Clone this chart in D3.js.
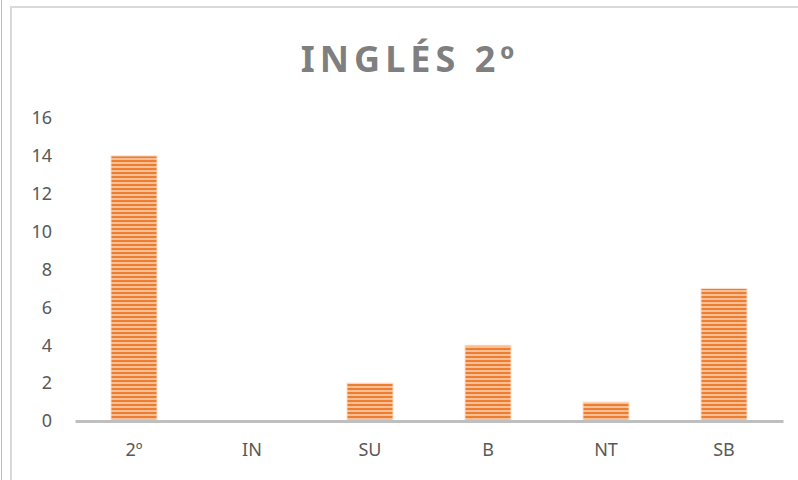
<!DOCTYPE html>
<head>
  <meta charset="UTF-8">
  <style>
    body { margin: 0; background: #fff; }
    text { font-family: "Noto Sans", sans-serif; }
  </style>
  <title>INGLÉS 2º</title>
</head>
<body>
  <script src="https://cdn.jsdelivr.net/npm/d3@7"></script>
  <script>
    // chart data
    var categories = ["2º", "IN", "SU", "B", "NT", "SB"];
    var values = [14, 0, 2, 4, 1, 7];
    var yTicks = [0, 2, 4, 6, 8, 10, 12, 14, 16];

    var width = 798, height = 480;
    var svg = d3.select("body").append("svg")
      .attr("width", width)
      .attr("height", height);

    // striped fill for the bars
    var defs = svg.append("defs");
    var pat = defs.append("pattern")
      .attr("id", "stripes")
      .attr("patternUnits", "userSpaceOnUse")
      .attr("width", 8).attr("height", 4);
    pat.append("rect").attr("width", 8).attr("height", 4).attr("fill", "#f7bf96");
    pat.append("rect").attr("y", 0).attr("width", 8).attr("height", 2).attr("fill", "#ed7d31");

    // outer frame lines
    svg.append("line")
      .attr("x1", 1.5).attr("x2", 1.5).attr("y1", 0).attr("y2", height)
      .attr("stroke", "#a9d18e").attr("stroke-width", 1);
    svg.append("rect")
      .attr("x", 11).attr("y", 7).attr("width", width).attr("height", height)
      .attr("fill", "none").attr("stroke", "#d9d9d9").attr("stroke-width", 2);

    // scales
    var x = d3.scaleBand().domain(categories).range([75, 783]).paddingInner(0.61).paddingOuter(0.305);
    var y = d3.scaleLinear().domain([0, 16]).range([421, 118]);

    // title
    svg.append("text")
      .attr("x", 410).attr("y", 72)
      .attr("text-anchor", "middle")
      .attr("font-size", 36).attr("font-weight", "bold")
      .attr("letter-spacing", 5)
      .attr("fill", "#7f7f7f")
      .text("INGLÉS 2º");

    // y axis labels
    var yAxis = d3.axisLeft(y).tickValues(yTicks).tickSize(0).tickPadding(0);
    var gy = svg.append("g").attr("transform", "translate(52,0)").call(yAxis);
    gy.select(".domain").remove();
    gy.selectAll("text").attr("font-size", 18).attr("fill", "#595959")
      .style("font-family", "'Noto Sans', sans-serif");

    // bars
    svg.append("g").selectAll("rect")
      .data(values)
      .enter()
      .append("rect")
      .attr("x", function(d, i) { return x(categories[i]); })
      .attr("y", function(d) { return y(d); })
      .attr("width", x.bandwidth())
      .attr("height", function(d) { return y(0) - y(d); })
      .attr("fill", "url(#stripes)")
      .attr("stroke", "#fbe0cc").attr("stroke-width", 1);

    // x axis
    var xAxis = d3.axisBottom(x).tickSize(0).tickPadding(22);
    var gx = svg.append("g").attr("transform", "translate(0," + y(0) + ")").call(xAxis);
    gx.select(".domain").attr("stroke", "#bfbfbf").attr("stroke-width", 3);
    gx.selectAll("text").attr("font-size", 18).attr("fill", "#595959")
      .style("font-family", "'Noto Sans', sans-serif");
  </script>
</body>
